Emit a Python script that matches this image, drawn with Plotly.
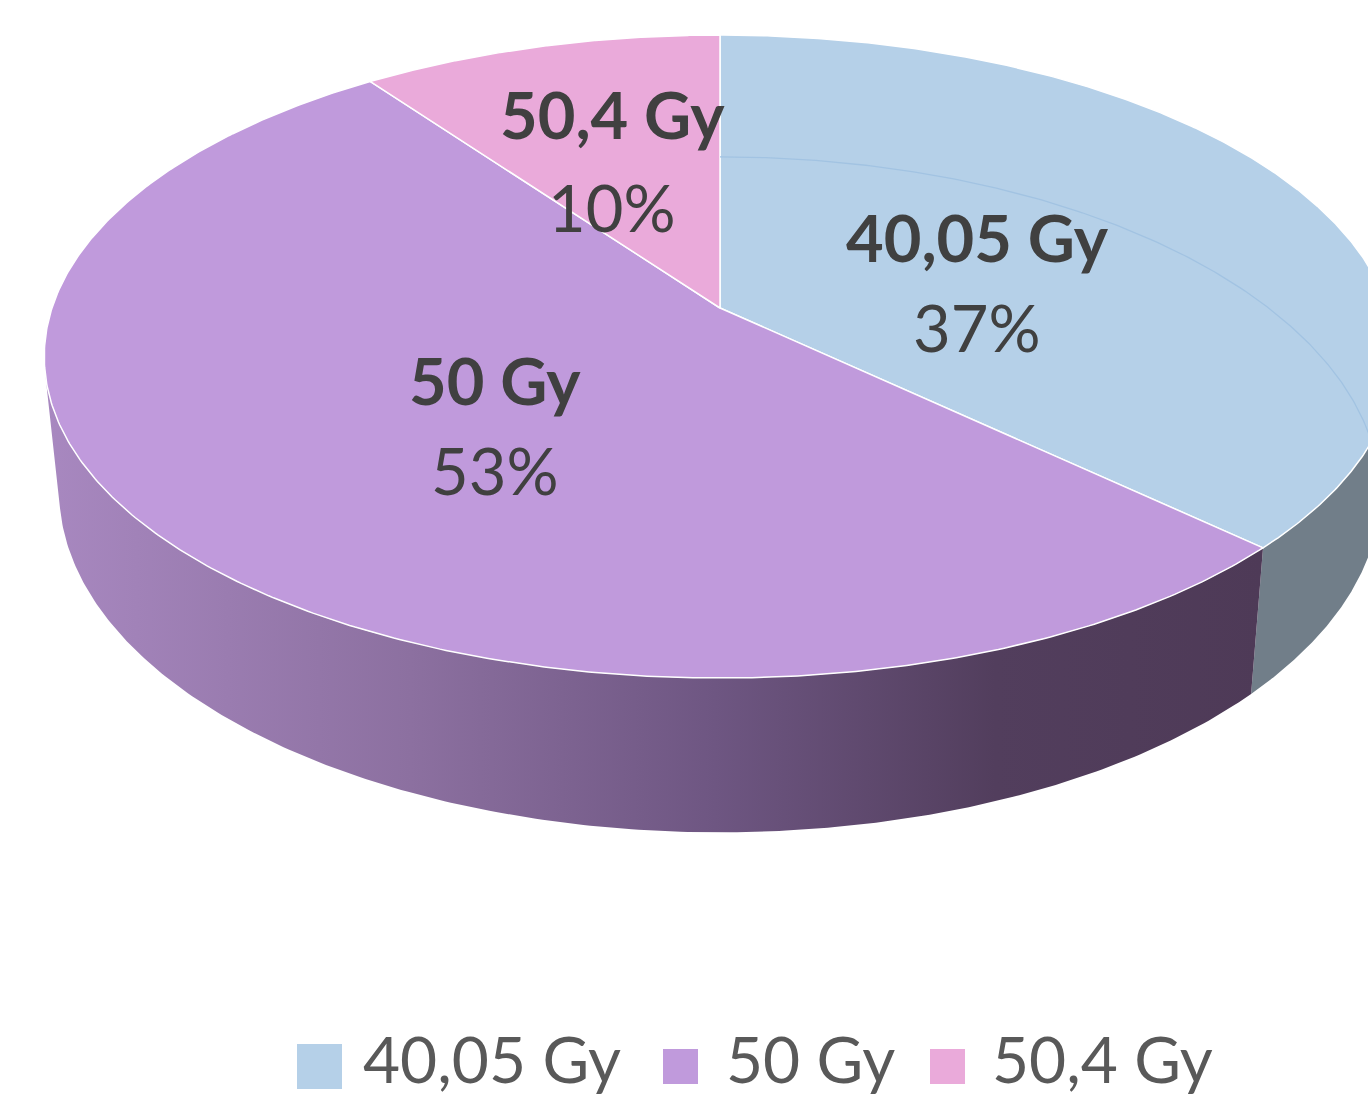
import numpy as np
import plotly.graph_objects as go

# ---------------- data ----------------
categories = ["40,05 Gy", "50 Gy", "50,4 Gy"]
values = [37, 53, 10]

# ---------------- styles ----------------
top_colors = ["#B5D0E8", "#C09ADC", "#EAAADA"]
side_colors = ["#717E89", "#A888C0", "#C991BE"]
side_gradients = [
    None,
    [[0.0, "#A888C0"], [0.3, "#8C70A0"], [0.55, "#6E5682"], [0.78, "#523E5D"], [1.0, "#4E3A57"]],
    None,
]
label_color = "#404040"
legend_color = "#595959"
FONT = "Lato"

# ---------------- geometry (canvas pixels) ----------------
W, H = 1368, 1099
CX = 720.0          # horizontal centre
RX = 668.0          # horizontal radius
PA, PB, PC = 267.7, 308.0, -0.1509   # perspective mapping of the depth axis
DEPTH = 131.0       # thickness of the pie
KB = 0.978          # horizontal shrink of the bottom rim


def top_pt(theta_deg):
    t = np.radians(theta_deg)
    u, v = np.sin(t), -np.cos(t)
    den = 1 + PC * v
    return CX + RX * u / den, (PA * v + PB) / den


def bot_pt(theta_deg):
    t = np.radians(theta_deg)
    v = -np.cos(t)
    den = 1 + PC * v
    x, y = top_pt(theta_deg)
    return CX + (x - CX) * KB, y + DEPTH / den


total = float(sum(values))
ends = np.cumsum([v / total * 360 for v in values])
starts = np.concatenate([[0.0], ends[:-1]])
pct_text = [f"{round(v / total * 100)}%" for v in values]

# visible range of the outer wall (front facing part)
th = np.arange(0, 360.0001, 0.1)
px, py = top_pt(th)
qx, qy = bot_pt(th)
dpx, dpy = np.gradient(px), np.gradient(py)
cross = dpx * (qy - py) - dpy * (qx - px)
vis = th[cross < 0]
vis_a, vis_b = vis.min(), vis.max()

fig = go.Figure()

# ----- side walls -----
for i in range(len(values)):
    a = max(starts[i], vis_a)
    b = min(ends[i], vis_b)
    if b <= a:
        continue
    tt = np.linspace(a, b, 240)
    tx, ty = top_pt(tt)
    bx, by = bot_pt(tt[::-1])
    xs = np.concatenate([tx, bx, tx[:1]])
    ys = np.concatenate([ty, by, ty[:1]])
    kw = dict(fill="toself", fillcolor=side_colors[i])
    if side_gradients[i] is not None:
        kw = dict(fill="toself",
                  fillgradient=dict(type="horizontal", colorscale=side_gradients[i],
                                    start=float(xs.min()), stop=float(xs.max())))
    fig.add_trace(go.Scatter(x=xs, y=ys, mode="lines",
                             line=dict(width=0, color=side_colors[i]),
                             hoverinfo="skip", showlegend=False, **kw))

# ----- top faces -----
for i in range(len(values)):
    tt = np.linspace(starts[i], ends[i], 400)
    tx, ty = top_pt(tt)
    xs = np.concatenate([[CX], tx, [CX]])
    ys = np.concatenate([[PB], ty, [PB]])
    fig.add_trace(go.Scatter(x=xs, y=ys, mode="lines", fill="toself",
                             fillcolor=top_colors[i],
                             line=dict(color="white", width=1.5),
                             hoverinfo="skip", showlegend=False,
                             name=categories[i]))

# faint hidden back rim showing through the first slice
tt = np.linspace(starts[0], min(ends[0], vis_a), 200)
hx, hy = bot_pt(tt)
fig.add_trace(go.Scatter(x=hx, y=hy + 8, mode="lines",
                         line=dict(color="#A2C3E2", width=1.3),
                         hoverinfo="skip", showlegend=False))

# ----- data labels -----
label_pos = [(977, 237, 327), (495, 380, 470), (612, 114, 207)]
for i, (lx, ly1, ly2) in enumerate(label_pos):
    fig.add_annotation(x=lx, y=ly1, text=f"<b>{categories[i]}</b>", showarrow=False,
                       xanchor="center", yanchor="middle",
                       font=dict(family=FONT, size=65, color=label_color))
    fig.add_annotation(x=lx, y=ly2, text=pct_text[i], showarrow=False,
                       xanchor="center", yanchor="middle",
                       font=dict(family=FONT, size=65, color=label_color))

# ----- legend -----
legend_items = [(297, 1044, 45, 361), (663, 1049, 35, 724), (930, 1049, 35, 990)]
for i, (sx, sy, ss, tx0) in enumerate(legend_items):
    fig.add_shape(type="rect", xref="x", yref="y", x0=sx, x1=sx + ss, y0=sy, y1=sy + ss,
                  fillcolor=top_colors[i], line=dict(width=0))
    fig.add_annotation(x=tx0, y=1058, text=categories[i], showarrow=False,
                       xanchor="left", yanchor="middle",
                       font=dict(family=FONT, size=64, color=legend_color))

fig.update_layout(
    width=W, height=H,
    margin=dict(l=0, r=0, t=0, b=0),
    paper_bgcolor="white", plot_bgcolor="white",
    xaxis=dict(range=[0, W], visible=False, fixedrange=True),
    yaxis=dict(range=[H, 0], visible=False, fixedrange=True),
    showlegend=False,
)

fig.write_html(
    "out.html",
    config={"displayModeBar": False},
    post_script="document.body.style.margin='0';document.body.style.overflow='hidden';",
)
